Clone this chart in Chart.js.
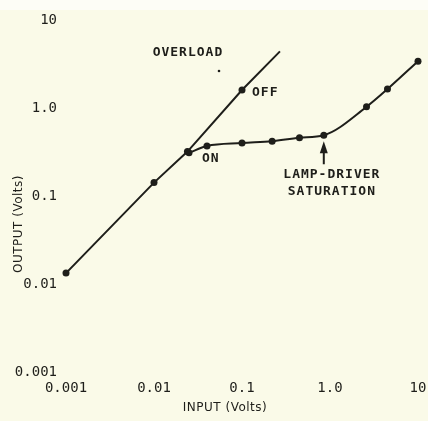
<!DOCTYPE html>
<html>
<head>
<meta charset="utf-8">
<script src="https://cdn.jsdelivr.net/npm/chart.js@4"></script>
<style>
  body { margin: 0; background: #fafae8; }
  canvas { display: block; }
</style>
</head>
<body>
<canvas id="chart" width="428" height="421"></canvas>
<script>
// values (both axes logarithmic, volts)
var overloadInput = [0.001, 0.01, 0.024, 0.1, 0.27];
var overloadOutput = [0.0133, 0.142, 0.32, 1.6, 4.4];
var overloadDots = [true, true, true, true, false]; // line runs on past the last dot

var onInput = [0.025, 0.04, 0.1, 0.22, 0.45, 0.85, 2.6, 4.5, 10];
var onOutput = [0.31, 0.37, 0.40, 0.42, 0.46, 0.49, 1.03, 1.64, 3.4];

var xTicks = [0.001, 0.01, 0.1, 1, 10];
var xTickLabels = ['0.001', '0.01', '0.1', '1.0', '10'];
var yTicks = [0.001, 0.01, 0.1, 1, 10];
var yTickLabels = ['0.001', '0.01', '0.1', '1.0', '10'];

var xTitle = 'INPUT (Volts)';
var yTitle = 'OUTPUT (Volts)';

// labels written on the plot, placed in data units
var notes = [
    { text: 'OVERLOAD', x: 0.0243, y: 4.3, align: 'center' },
    { text: 'OFF', x: 0.13, y: 1.48, align: 'left' },
    { text: 'ON', x: 0.035, y: 0.263, align: 'left' },
    { text: 'LAMP-DRIVER', x: 1.05, y: 0.173, align: 'center' },
    { text: 'SATURATION', x: 1.05, y: 0.111, align: 'center' }
];
var strayDot = { x: 0.0548, y: 2.63 };
var saturationIndex = 5; // arrow points at this point of the ON curve

var ink = '#1e1e1a';

function toPoints(xs, ys) {
    return xs.map(function (x, i) { return { x: x, y: ys[i] }; });
}

var paperPlugin = {
    id: 'paper',
    beforeDraw: function (chart) {
        var c = chart.ctx;
        c.save();
        c.fillStyle = '#fafae8';
        c.fillRect(0, 0, chart.width, chart.height);
        c.fillStyle = '#fdfdf6';
        c.fillRect(0, 0, chart.width, 10);
        c.restore();
    }
};

var notesPlugin = {
    id: 'notes',
    afterDatasetsDraw: function (chart) {
        var c = chart.ctx;
        var xs = chart.scales.x, ys = chart.scales.y;
        c.save();
        c.fillStyle = ink;
        c.strokeStyle = ink;
        c.font = 'bold 13px "DejaVu Sans Mono"';
        c.letterSpacing = '1px';
        c.textBaseline = 'middle';
        notes.forEach(function (n) {
            c.textAlign = n.align;
            c.fillText(n.text, xs.getPixelForValue(n.x), ys.getPixelForValue(n.y));
        });

        // small dot under OVERLOAD
        c.beginPath();
        c.arc(xs.getPixelForValue(strayDot.x), ys.getPixelForValue(strayDot.y), 1.3, 0, Math.PI * 2);
        c.fill();

        // arrow up to the saturation point
        var ax = xs.getPixelForValue(onInput[saturationIndex]);
        var ay = ys.getPixelForValue(onOutput[saturationIndex]);
        c.lineWidth = 2;
        c.beginPath();
        c.moveTo(ax, ay + 29);
        c.lineTo(ax, ay + 14);
        c.stroke();
        c.beginPath();
        c.moveTo(ax, ay + 6);
        c.lineTo(ax - 4, ay + 18);
        c.lineTo(ax + 4, ay + 18);
        c.closePath();
        c.fill();

        // axis titles
        c.letterSpacing = '0.5px';
        c.font = '12px "DejaVu Sans"';
        c.textAlign = 'center';
        c.fillText(xTitle, 225, 408);
        c.translate(19, 224);
        c.rotate(-Math.PI / 2);
        c.fillText(yTitle, 0, 0);
        c.restore();
    }
};

var ctx = document.getElementById('chart').getContext('2d');

var chart = new Chart(ctx, {
    type: 'line',
    data: {
        datasets: [{
            label: 'Overload',
            data: toPoints(overloadInput, overloadOutput),
            borderColor: ink,
            backgroundColor: ink,
            borderWidth: 2,
            pointRadius: overloadDots.map(function (d) { return d ? 3.5 : 0; }),
            pointBackgroundColor: ink,
            pointBorderWidth: 0,
            tension: 0,
            clip: false
        }, {
            label: 'On',
            data: toPoints(onInput, onOutput),
            borderColor: ink,
            backgroundColor: ink,
            borderWidth: 2,
            pointRadius: 3.5,
            pointBackgroundColor: ink,
            pointBorderWidth: 0,
            cubicInterpolationMode: 'monotone',
            clip: false
        }]
    },
    options: {
        responsive: false,
        animation: false,
        layout: {
            padding: { top: 20, right: 10, bottom: 0, left: 0 }
        },
        plugins: {
            legend: { display: false },
            tooltip: { enabled: false }
        },
        scales: {
            x: {
                type: 'logarithmic',
                min: 0.001,
                max: 10,
                grid: { display: false, drawTicks: false },
                border: { display: false },
                afterBuildTicks: function (axis) {
                    axis.ticks = xTicks.map(function (v) { return { value: v }; });
                },
                afterFit: function (axis) {
                    axis.height = 49;
                    axis.paddingLeft = 0;
                    axis.paddingRight = 0;
                },
                ticks: {
                    color: ink,
                    padding: 8,
                    maxRotation: 0,
                    autoSkip: false,
                    font: { family: 'DejaVu Sans Mono', size: 14 },
                    callback: function (value) {
                        return xTickLabels[xTicks.indexOf(value)];
                    }
                }
            },
            y: {
                type: 'logarithmic',
                min: 0.001,
                max: 10,
                grid: { display: false, drawTicks: false },
                border: { display: false },
                afterBuildTicks: function (axis) {
                    axis.ticks = yTicks.map(function (v) { return { value: v }; });
                },
                afterFit: function (axis) {
                    axis.width = 66;
                    axis.paddingTop = 0;
                    axis.paddingBottom = 0;
                },
                ticks: {
                    color: ink,
                    padding: 9,
                    autoSkip: false,
                    font: { family: 'DejaVu Sans Mono', size: 14 },
                    callback: function (value) {
                        return yTickLabels[yTicks.indexOf(value)];
                    }
                }
            }
        }
    },
    plugins: [paperPlugin, notesPlugin]
});
</script>
</body>
</html>
